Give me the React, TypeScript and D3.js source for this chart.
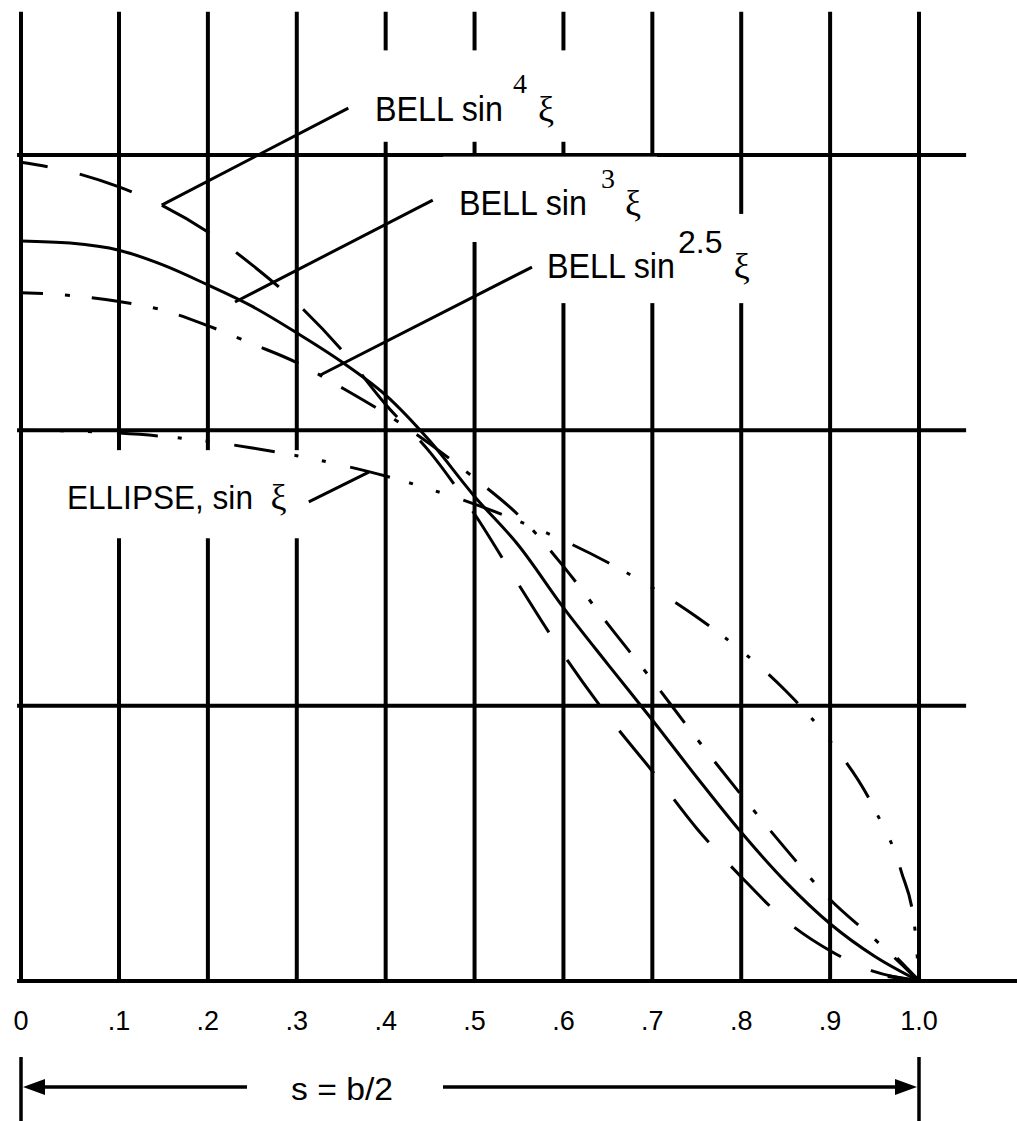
import React from "react";
import * as d3 from "d3";

const W = 1017;
const H = 1121;

// spanwise stations, s/(b/2)
const stations = [0, 0.05, 0.1, 0.15, 0.2, 0.25, 0.3, 0.35, 0.4, 0.45, 0.5, 0.55, 0.6, 0.65, 0.7, 0.75, 0.8, 0.85, 0.9, 0.95, 1.0];

// loading (gridlines at 0.5, 1.0, 1.5)
const bellSin4 = [1.487, 1.47, 1.442, 1.407, 1.36, 1.3, 1.231, 1.147, 1.047, 0.96, 0.848, 0.719, 0.593, 0.481, 0.381, 0.277, 0.189, 0.11, 0.055, 0.017, 0];
const bellSin3 = [1.344, 1.34, 1.327, 1.3, 1.264, 1.225, 1.177, 1.125, 1.064, 0.98, 0.88, 0.79, 0.678, 0.575, 0.474, 0.37, 0.27, 0.18, 0.104, 0.045, 0];
const bellSin25 = [1.25, 1.245, 1.234, 1.218, 1.19, 1.157, 1.123, 1.078, 1.03, 0.975, 0.913, 0.845, 0.753, 0.648, 0.546, 0.44, 0.338, 0.24, 0.148, 0.076, 0];

const ellipseStations = [0, 0.05, 0.1, 0.15, 0.2, 0.25, 0.3, 0.35, 0.4, 0.45, 0.5, 0.55, 0.6, 0.65, 0.7, 0.75, 0.8, 0.85, 0.9, 0.95, 0.98, 0.995, 1.0];
const ellipseSin = [1.0, 0.999, 0.995, 0.989, 0.98, 0.968, 0.954, 0.937, 0.917, 0.893, 0.866, 0.835, 0.8, 0.76, 0.714, 0.661, 0.6, 0.527, 0.436, 0.312, 0.199, 0.1, 0];

const xTicks = [0, 0.1, 0.2, 0.3, 0.4, 0.5, 0.6, 0.7, 0.8, 0.9, 1.0];
const xTickLabels = ["0", ".1", ".2", ".3", ".4", ".5", ".6", ".7", ".8", ".9", "1.0"];
const yGrid = [0.5, 1.0, 1.5];

const SANS = "'Liberation Sans', Arial, Helvetica, sans-serif";
const SERIF = "'Liberation Serif', 'Times New Roman', serif";

// the first division of the original drawing is a little wider than the rest
const x = d3.scaleLinear().domain([0, 0.1, 1.0]).range([21, 119, 919]);
const y = d3.scaleLinear().domain([0, 1.5]).range([981, 155]);

const line = d3
  .line<[number, number]>()
  .x((d) => x(d[0]))
  .y((d) => y(d[1]))
  .curve(d3.curveMonotoneX);

const zip = (xsv: number[], ysv: number[]) => xsv.map((v, i) => [v, ysv[i]] as [number, number]);

// white boxes behind the labels (they break the grid)
const labelBoxes = [
  { x0: 0.362, x1: 0.641, y0: 1.69, y1: 1.524 },
  { x0: 0.4645, x1: 0.7053, y0: 1.497, y1: 1.342 },
  { x0: 0.568, x1: 0.8267, y0: 1.393, y1: 1.231 },
  { x0: 0.0276, x1: 0.306, y0: 0.964, y1: 0.804 },
];

const leaders = [
  { from: [0.358, 1.585], to: [0.148, 1.409] },
  { from: [0.453, 1.418], to: [0.2305, 1.233] },
  { from: [0.5646, 1.2965], to: [0.326, 1.1] },
  { from: [0.3135, 0.87], to: [0.381, 0.924] },
];

const bellLabels = [
  { x: 0.388, y: 1.5617, exp: "4", expX: 0.5432, expY: 1.6125, expFont: SERIF, expSize: 28, xiX: 0.5714 },
  { x: 0.4825, y: 1.391, exp: "3", expX: 0.6422, expY: 1.44, expFont: SERIF, expSize: 28, xiX: 0.6692 },
  { x: 0.5815, y: 1.2766, exp: "2.5", expX: 0.7289, expY: 1.322, expFont: SANS, expSize: 32, xiX: 0.7915 },
];

export default function App() {
  const tickY = y(-0.089);
  const dimY = y(-0.1925);
  const gapL = 0.244;
  const gapR = 0.4645;

  return (
    <svg
      width={W}
      height={H}
      viewBox={`0 0 ${W} ${H}`}
      style={{ position: "absolute", left: 0, top: 0, background: "#fff" }}
    >
      <defs>
        <marker id="openArrow" markerUnits="userSpaceOnUse" markerWidth="40" markerHeight="40" refX="0" refY="0" viewBox="-30 -15 32 30" orient="auto">
          <path d="M-24,-8 L0,0 L-24,8" fill="none" stroke="#000" strokeWidth={3} />
        </marker>
      </defs>
      <rect width={W} height={H} fill="#fff" />

      {/* grid */}
      <g stroke="#000" strokeWidth={4}>
        {xTicks.map((t) => (
          <line key={"v" + t} x1={x(t)} x2={x(t)} y1={y(1.76)} y2={y(0)} />
        ))}
        {yGrid.map((g) => (
          <line key={"h" + g} x1={x(-0.004)} x2={x(1.053)} y1={y(g)} y2={y(g)} />
        ))}
        <line x1={x(-0.004)} x2={W} y1={y(0)} y2={y(0)} />
      </g>

      {labelBoxes.map((b, i) => (
        <rect key={i} x={x(b.x0)} y={y(b.y0)} width={x(b.x1) - x(b.x0)} height={y(b.y1) - y(b.y0)} fill="#fff" />
      ))}

      {/* curves */}
      <g fill="none" stroke="#000" strokeWidth={3}>
        <path d={line(zip(ellipseStations, ellipseSin)) || ""} strokeDasharray="41 20 4 24 4 25" strokeDashoffset={22} />
        <path d={line(zip(stations, bellSin25)) || ""} strokeDasharray="40 22 5 22" strokeDashoffset={18} />
        <path d={line(zip(stations, bellSin4)) || ""} strokeDasharray="55 33" strokeDashoffset={28} />
        <path d={line(zip(stations, bellSin3)) || ""} markerEnd="url(#openArrow)" />
      </g>

      {/* leaders */}
      <g stroke="#000" strokeWidth={3}>
        {leaders.map((l, i) => (
          <line key={i} x1={x(l.from[0])} y1={y(l.from[1])} x2={x(l.to[0])} y2={y(l.to[1])} />
        ))}
      </g>

      {/* labels */}
      {bellLabels.map((b, i) => (
        <g key={i} fill="#000">
          <text x={x(b.x)} y={y(b.y)} fontFamily={SANS} fontSize={35} textLength={128} lengthAdjust="spacingAndGlyphs">
            BELL sin
          </text>
          <text x={x(b.expX)} y={y(b.expY)} fontFamily={b.expFont} fontSize={b.expSize}>{b.exp}</text>
          <text x={x(b.xiX)} y={y(b.y)} fontFamily={SERIF} fontSize={36}>ξ</text>
        </g>
      ))}
      <text x={x(0.0469)} y={y(0.857)} fontFamily={SANS} fontSize={34} textLength={186} lengthAdjust="spacingAndGlyphs">
        ELLIPSE, sin
      </text>
      <text x={x(0.2703)} y={y(0.857)} fontFamily={SERIF} fontSize={36}>ξ</text>

      {/* axis labels */}
      {xTicks.map((t, i) => (
        <text key={"t" + t} x={x(t)} y={tickY} textAnchor="middle" fontFamily={SANS} fontSize={27}>
          {xTickLabels[i]}
        </text>
      ))}

      {/* s = b/2 dimension */}
      <g stroke="#000" strokeWidth={3.5}>
        <line x1={x(0)} x2={x(0)} y1={y(-0.138)} y2={H} />
        <line x1={x(1)} x2={x(1)} y1={y(-0.138)} y2={H} />
        <line x1={x(0) + 20} x2={x(gapL)} y1={dimY} y2={dimY} />
        <line x1={x(gapR)} x2={x(1) - 20} y1={dimY} y2={dimY} />
      </g>
      <path d={`M${x(0) + 2},${dimY} l22,-8 l0,16 z`} fill="#000" />
      <path d={`M${x(1) - 2},${dimY} l-22,-8 l0,16 z`} fill="#000" />
      <text x={x(0.3509)} y={y(-0.216)} textAnchor="middle" fontFamily={SANS} fontSize={32} textLength={102} lengthAdjust="spacingAndGlyphs">
        s = b/2
      </text>
    </svg>
  );
}
